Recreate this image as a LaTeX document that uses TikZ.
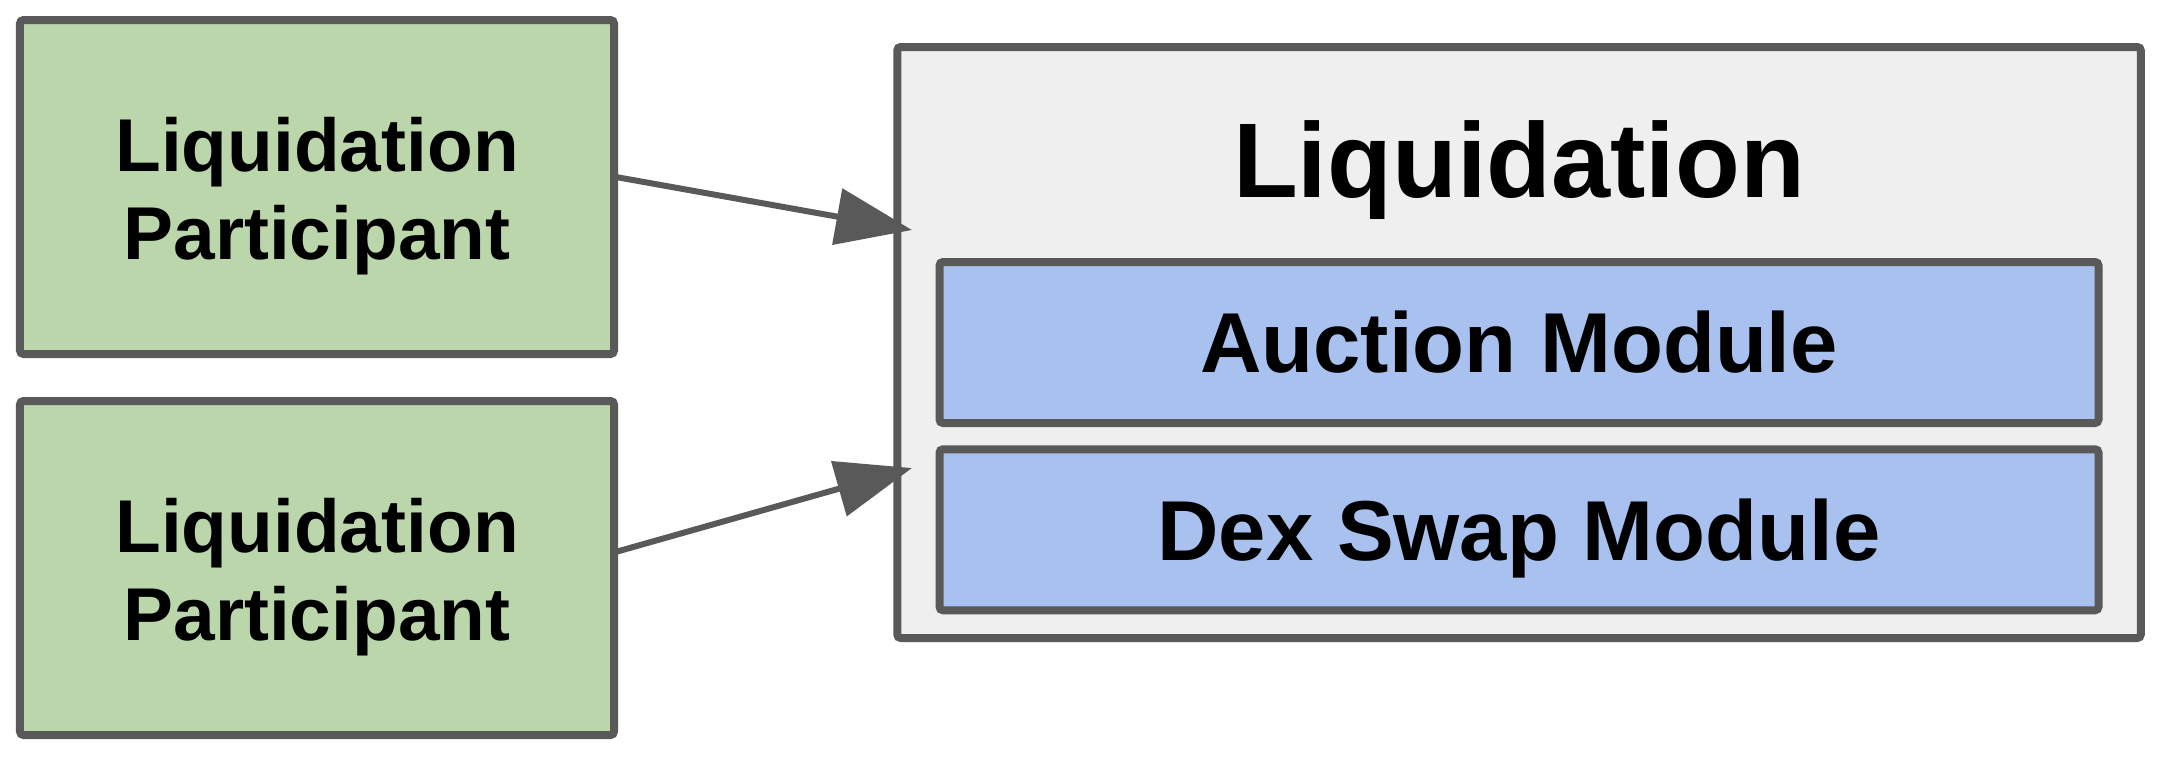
\documentclass[tikz,border=0pt]{standalone}
\usepackage{fontspec}
\setmainfont{Liberation Sans}
\usetikzlibrary{arrows.meta}
\definecolor{edgegray}{HTML}{595959}
\definecolor{greenfill}{HTML}{BBD6AB}
\definecolor{bluefill}{HTML}{A9C1EE}
\definecolor{grayfill}{HTML}{EFEFEF}
\tikzset{
  box/.style={draw=edgegray, line width=0.08cm, rounded corners=1pt, inner sep=0pt, outer sep=0pt},
  partbox/.style={box, fill=greenfill, minimum width=5.94cm, minimum height=3.34cm,
    align=center, font=\fontsize{21.3pt}{25pt}\selectfont\bfseries,
    text height=1.58cm, text depth=0.14cm},
  groupbox/.style={box, fill=grayfill, minimum width=12.435cm, minimum height=5.91cm},
  modbox/.style={box, fill=bluefill, minimum width=11.59cm, minimum height=1.61cm,
    font=\fontsize{24.2pt}{29pt}\selectfont\bfseries, text height=0.765cm, text depth=0.156cm},
  titletext/.style={inner sep=0pt, anchor=base, font=\fontsize{30.2pt}{36pt}\selectfont\bfseries},
  conn/.style={draw=edgegray, line width=0.06cm, -{Triangle[length=7.6mm,width=5.6mm]}}
}
\begin{document}
\begin{tikzpicture}
\useasboundingbox[fill=white] (0,0) rectangle (21.68,-7.58);
\node[partbox] (p1) at (3.17,-1.87) {Liquidation\\Participant};
\node[partbox] (p2) at (3.17,-5.68) {Liquidation\\Participant};
\node[groupbox] (grp) at (15.19,-3.425) {};
\node[titletext] (title) at (15.19,-1.97) {Liquidation};
\node[modbox] (auction) at (15.19,-3.425) {Auction Module};
\node[modbox] (dex) at (15.19,-5.2975) {Dex Swap Module};
\coordinate (t1) at (9.12,-2.30);
\coordinate (t2) at (9.12,-4.68);
\draw[conn] (p1.2.7) -- (t1);
\draw[conn] (p2.3.2) -- (t2);
\end{tikzpicture}
\end{document}
